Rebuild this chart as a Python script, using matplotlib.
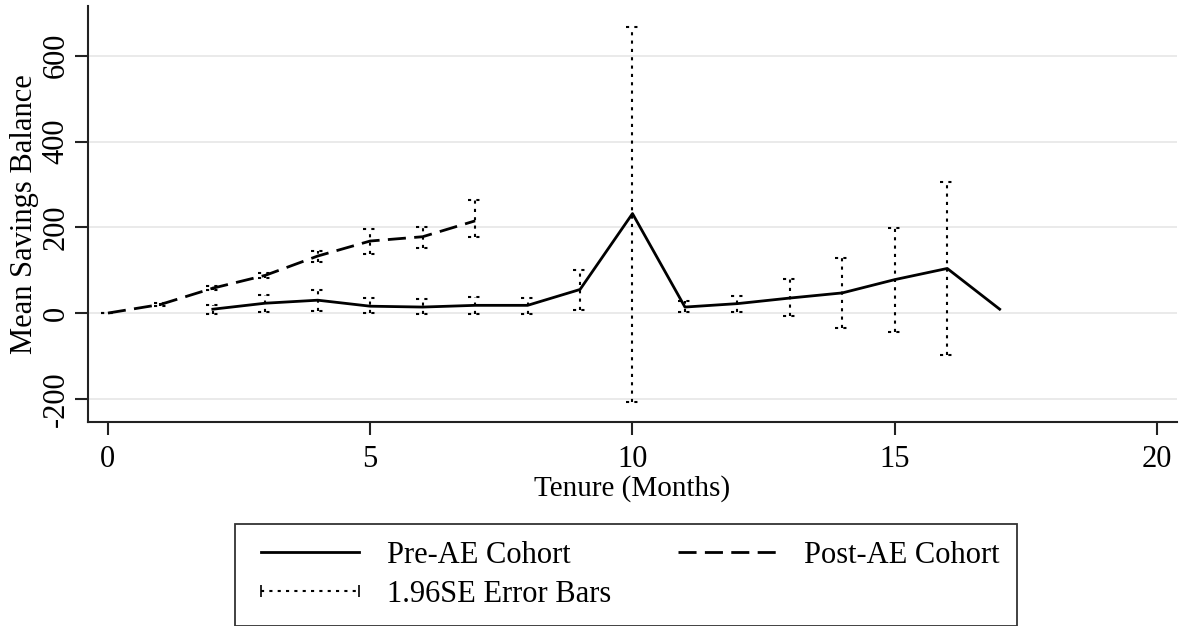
import numpy as np
import matplotlib
matplotlib.use("Agg")
from matplotlib import pyplot as plt
from matplotlib.lines import Line2D

plt.rcParams['font.family'] = ['Liberation Serif', 'DejaVu Serif']

# Pre-AE cohort: tenure, mean, CI low, CI high
pre_x = [2, 3, 4, 5, 6, 7, 8, 9, 10, 11, 12, 13, 14, 15, 16, 17]
pre_mean = [9, 23, 30, 16, 14, 18, 18, 55, 232, 14, 22, 35, 47, 78, 104, 9]
pre_lo = [-2, 2, 5, -1, -3, -2, -3, 8, -207, 2, 3, -8, -35, -45, -98, np.nan]
pre_hi = [19, 43, 53, 35, 33, 38, 35, 101, 668, 27, 40, 79, 128, 198, 306, np.nan]

# Post-AE cohort
post_x = [0, 1, 2, 3, 4, 5, 6, 7]
post_mean = [0, 20, 58, 88, 133, 168, 178, 215]
post_lo = [-1, 16, 53, 82, 118, 137, 152, 178]
post_hi = [1, 24, 63, 94, 145, 196, 201, 263]

x_ticks = [0, 5, 10, 15, 20]
y_ticks = [-200, 0, 200, 400, 600]

dot = (0, (1.5, 2.5))
dash = (0, (6.5, 3))
cap = 0.13

fig = plt.figure(figsize=(11.86, 6.26), dpi=100)
ax = fig.add_axes([0.0742, 0.3259, 0.9182, 0.6645])

for xs, lo, hi in [(pre_x, pre_lo, pre_hi), (post_x, post_lo, post_hi)]:
    xs = np.array(xs, float)
    lo = np.array(lo, float)
    hi = np.array(hi, float)
    ok = ~np.isnan(lo)
    ax.vlines(xs[ok], lo[ok], hi[ok], colors='black', linestyles=dot, lw=1.5, zorder=2)
    ax.hlines(lo[ok], xs[ok] - cap, xs[ok] + cap, colors='black', linestyles=dot, lw=1.5, zorder=2)
    ax.hlines(hi[ok], xs[ok] - cap, xs[ok] + cap, colors='black', linestyles=dot, lw=1.5, zorder=2)

ax.plot(pre_x, pre_mean, color='black', lw=2, zorder=3)
ax.plot(post_x, post_mean, color='black', lw=2, ls=dash, zorder=3)

ax.set_xlim(-0.38, 20.38)
ax.set_ylim(-254, 716)
ax.set_xticks(x_ticks)
ax.set_yticks(y_ticks)
ax.set_yticklabels([str(v) for v in y_ticks], rotation=90, va='center')
ax.grid(axis='y', color='#e6e6e6', lw=1.2)
ax.set_axisbelow(True)

for s in ['top', 'right']:
    ax.spines[s].set_visible(False)
for s in ['left', 'bottom']:
    ax.spines[s].set_linewidth(1.5)
    ax.spines[s].set_color('#222222')
ax.tick_params(direction='out', length=9.5, width=1.5, color='#222222',
               labelsize=22)
ax.tick_params(axis='x', pad=7)
ax.tick_params(axis='y', pad=3)

ax.set_xlabel('Tenure (Months)', fontsize=21, labelpad=1)
ax.set_ylabel('Mean Savings Balance', fontsize=22, labelpad=2)

h_pre = Line2D([], [], color='black', lw=2)
h_post = Line2D([], [], color='black', lw=2, ls=dash)
h_err = Line2D([], [], color='black', lw=1.5, ls=dot, marker='|', markersize=8, markeredgewidth=1.2)
leg = fig.legend([h_pre, h_err, h_post], ['Pre-AE Cohort', '1.96SE Error Bars', 'Post-AE Cohort'],
                 ncol=2, loc='upper left',
                 bbox_to_anchor=(235 / 1186, 1 - 524 / 626),
                 fontsize=22, frameon=True, fancybox=False, edgecolor='black',
                 handlelength=3.8, handletextpad=0.62, columnspacing=1.9,
                 numpoints=2, borderpad=0.55, labelspacing=0.33, borderaxespad=0)
leg.get_frame().set_linewidth(1.3)

fig.savefig('out.png', dpi=100)
